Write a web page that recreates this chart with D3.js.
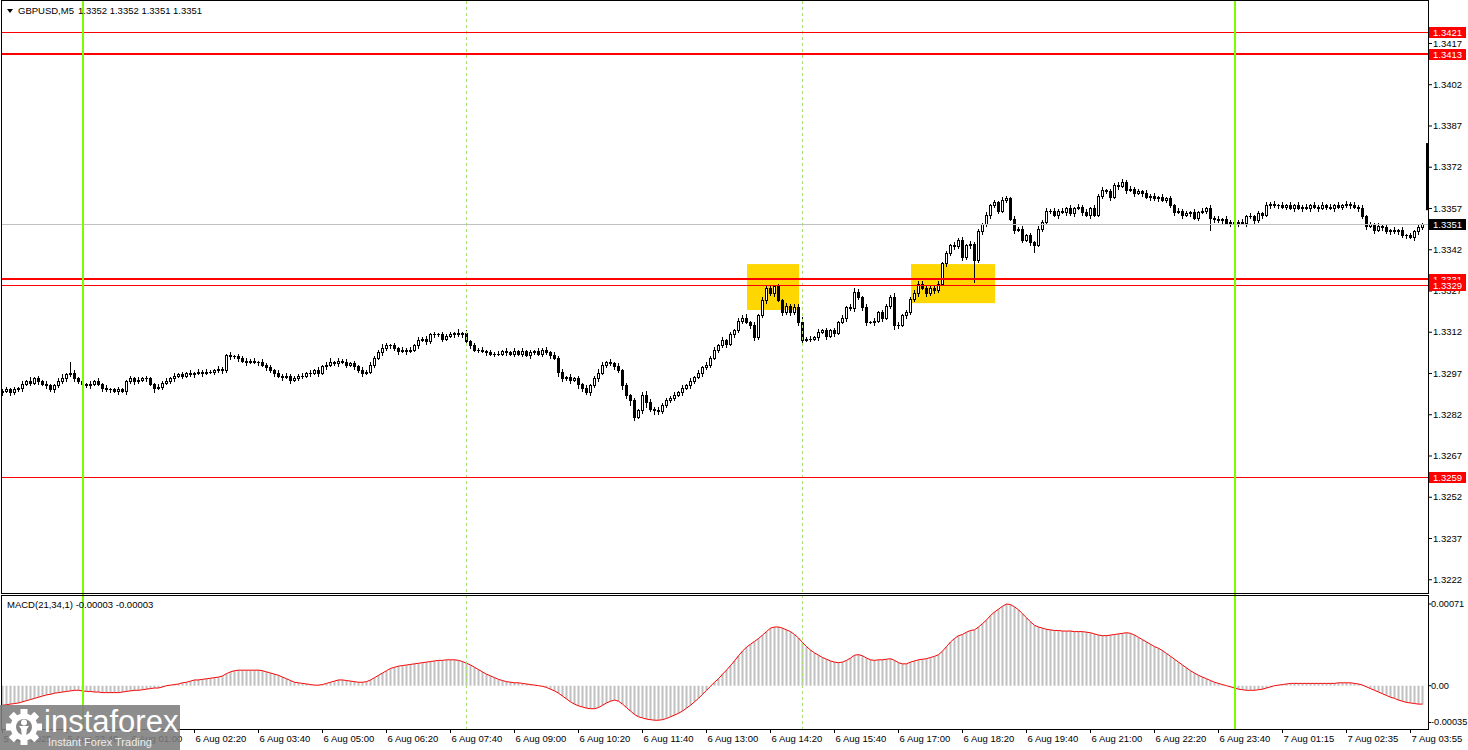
<!DOCTYPE html>
<html><head><meta charset="utf-8">
<script src="https://cdn.jsdelivr.net/npm/d3@7"></script>
<style>
html,body{margin:0;padding:0;background:#fff;overflow:hidden}
svg{display:block}
text{font-family:"Liberation Sans",Arial,sans-serif;}
</style></head><body>
<svg id="c" width="1468" height="750"></svg>
<script>
// ---------------- DATA ----------------
const symbol = "GBPUSD,M5";
const quote = [1.3352, 1.3352, 1.3351, 1.3351];
const macdName = "MACD(21,34,1)";
const macdReadout = [-0.00003, -0.00003];
const firstOpen = 1.3290;
const closes = [
1.32905,1.3291,1.329,1.3291,1.32915,1.3293,1.3294,1.32935,1.3295,1.3294,
1.3293,1.32925,1.3291,1.32925,1.3294,1.3295,1.32965,1.3297,1.3295,1.3294,
1.3293,1.32925,1.3293,1.3294,1.3293,1.32915,1.3291,1.3291,1.32905,1.3291,
1.32905,1.3294,1.3295,1.3294,1.32945,1.3295,1.3295,1.3293,1.32915,1.3292,
1.32935,1.3294,1.3295,1.3296,1.32965,1.3296,1.3297,1.32965,1.3297,1.32975,
1.3297,1.32975,1.32975,1.3298,1.32985,1.3298,1.33035,1.3303,1.3303,1.33025,
1.33015,1.3301,1.33015,1.3301,1.3301,1.33,1.3299,1.3298,1.3297,1.3296,
1.32955,1.3296,1.32945,1.3295,1.3296,1.3296,1.3297,1.3297,1.3298,1.3297,
1.32995,1.33,1.3301,1.33005,1.33015,1.3301,1.33,1.33005,1.32995,1.3298,
1.3297,1.32975,1.33,1.33025,1.33045,1.3306,1.3307,1.3307,1.3306,1.3305,
1.33055,1.3305,1.33055,1.3307,1.3309,1.33095,1.33085,1.3311,1.3311,1.3311,
1.33095,1.33105,1.3311,1.33115,1.3311,1.33115,1.33085,1.3307,1.33055,1.33055,
1.3305,1.33045,1.3304,1.3304,1.3304,1.3305,1.33045,1.3304,1.3305,1.3304,
1.3305,1.33035,1.33045,1.3305,1.3304,1.33055,1.33045,1.33035,1.33025,1.32975,
1.3295,1.32955,1.32945,1.3295,1.3293,1.32915,1.329,1.32925,1.3295,1.3297,
1.33,1.3301,1.33005,1.32995,1.3298,1.32925,1.3289,1.3287,1.3281,1.32835,
1.3289,1.32865,1.3284,1.32835,1.3283,1.32855,1.3287,1.3288,1.3289,1.329,
1.32915,1.32925,1.3294,1.32955,1.3297,1.3299,1.33,1.33025,1.33055,1.3307,
1.3309,1.33075,1.3311,1.33125,1.3316,1.3317,1.33155,1.33145,1.331,1.3318,
1.33235,1.3328,1.3326,1.33285,1.33235,1.3319,1.33215,1.3319,1.3321,1.33155,
1.3309,1.33095,1.33095,1.331,1.3312,1.33125,1.33105,1.33125,1.33115,1.33155,
1.3317,1.3321,1.33205,1.33265,1.33245,1.3321,1.33155,1.33155,1.3316,1.3319,
1.3317,1.33215,1.33245,1.33145,1.33145,1.3318,1.3319,1.3324,1.3326,1.33295,
1.3328,1.3326,1.3328,1.3327,1.33295,1.3337,1.33405,1.33435,1.3343,1.33455,
1.3339,1.33435,1.3344,1.3338,1.33485,1.3351,1.33545,1.3358,1.3359,1.3356,
1.336,1.33605,1.3353,1.3349,1.33495,1.33455,1.3347,1.33445,1.33435,1.33495,
1.3352,1.3356,1.3356,1.33545,1.3356,1.33555,1.3357,1.3355,1.3357,1.33575,
1.33555,1.33545,1.3357,1.33545,1.33615,1.33635,1.3363,1.3361,1.33655,1.3365,
1.33665,1.33635,1.3364,1.33625,1.3363,1.33625,1.3361,1.33615,1.33605,1.3361,
1.336,1.33605,1.3358,1.33555,1.3356,1.33545,1.3355,1.33555,1.33535,1.33555,
1.3356,1.3357,1.33535,1.3353,1.33525,1.3353,1.33515,1.3352,1.33515,1.3352,
1.33515,1.3354,1.3354,1.33525,1.3355,1.33545,1.3358,1.33585,1.3358,1.3358,
1.33575,1.3358,1.3357,1.3358,1.3357,1.33575,1.3357,1.3358,1.33575,1.3357,
1.3358,1.33575,1.3357,1.3358,1.33575,1.3358,1.33585,1.3358,1.33575,1.3357,
1.3354,1.33505,1.3351,1.3349,1.33505,1.335,1.33485,1.3349,1.33485,1.3349,
1.3347,1.3347,1.33465,1.33485,1.335,1.3351
];
// wick lengths above / below the candle body, in pips
const wickUpPips = [
0.5,1,0.5,1,0.5,1,0.5,1.5,0.5,1, 0.5,1,0.5,0.5,1,1.5,0.5,4,1,0.5,
1,0.5,1,0.5,1,0.5,1,0.5,0.5,1, 0.5,0.5,1,0.5,1,0.5,1,0.5,0.5,1,
0.5,1,0.5,1,0.5,1,0.5,1,0.5,1, 0.5,1,0.5,0.5,1,0.5,0.5,1,0.5,1,
0.5,1,0.5,1,0.5,1,0.5,1,0.5,1, 0.5,1,0.5,1,0.5,1,0.5,1,0.5,1,
0.5,1,1.5,0.5,1,0.5,1,0.5,1,0.5, 1,0.5,1,0.5,1,1.5,1,0.5,1,0.5,
1,0.5,1,0.5,1,0.5,1,0.5,1,0.5, 1,0.5,1,0.5,1.5,0.5,1,0.5,1,0.5,
1,0.5,1,0.5,1,0.5,1,0.5,1,0.5, 1,0.5,1,0.5,1,0.5,1,0.5,1,0.5,
1,0.5,1,0.5,1,0.5,1,0.5,1,1.5, 1,0.5,1,0.5,1,0.5,1,0.5,1,0.5,
1,1.5,1,0.5,1,0.5,1,0.5,1,0.5, 1,0.5,1,0.5,1,0.5,1,0.5,1,0.5,
1,0.5,1,0.5,1,1,1.5,0.5,1,0.5, 1,0.5,1,0.5,1,0.5,1,0.5,1,1,
2,0.5,1,0.5,1,0.5,1,0.5,1,0.5, 1,0.5,1,1.5,1,0.5,1,0.5,1,0.5,
1,0.5,1,1.5,1,0.5,1,0.5,1,1, 1,0.5,1,0.5,1,0.5,1,0.5,1,0.5,
1,0.5,1,0.5,1,0.5,1,0.5,1,0.5, 1,1,0.5,1,0.5,1,0.5,1,0.5,1,
0.5,1,0.5,1,0.5,1,0.5,1,0.5,1, 0.5,1,0.5,1,0.5,1,0.5,1,0.5,1,
1,0.5,1,0.5,1,0.5,1,0.5,1,0.5, 1,0.5,1,0.5,1,0.5,1,0.5,1,0.5,
1,0.5,1,0.5,1,0.5,1,0.5,1,0.5, 1,0.5,1,0.5,1,0.5,1,0.5,1,0.5,
1,0.5,1,0.5,1,0.5,1,0.5,1,0.5, 1,0.5,1,0.5,1,0.5,1,0.5,1,0.5,
1,0.5,1,0.5,1,0.5,1,0.5,1,0.5, 1,0.5,1,0.5,1,0.5
];
const wickDownPips = [
1,0.5,1,0.5,0.5,1,0.5,1,0.5,1, 0.5,1,0.5,1,0.5,0.5,1,0.5,1,0.5,
1,0.5,1,0.5,0.5,1,0.5,1,0.5,1, 0.5,1,0.5,1,0.5,0.5,1,0.5,1.5,0.5,
1,0.5,0.5,1,0.5,1,0.5,0.5,1,0.5, 1,0.5,0.5,1,0.5,1,0.5,1,0.5,1,
0.5,1,0.5,0.5,1,0.5,1,0.5,1,0.5, 1,0.5,1,0.5,0.5,1,0.5,1,0.5,1,
0.5,1,0.5,0.5,1,0.5,1,0.5,1,0.5, 1,0.5,0.5,1,0.5,1,0.5,1,0.5,1,
0.5,1,0.5,0.5,1,0.5,1,0.5,1,0.5, 1,0.5,0.5,1,0.5,1,0.5,1,0.5,1,
0.5,1,0.5,1,0.5,0.5,1,0.5,1,0.5, 1,0.5,1,0.5,0.5,1,0.5,1,0.5,1.5,
1,0.5,1,0.5,1.5,1,0.5,1,0.5,1, 0.5,1,0.5,1,0.5,1.5,1,1.5,1,0.5,
1,2,1,1.5,1,0.5,1,0.5,1,0.5, 1,0.5,1,0.5,0.5,1,0.5,1,0.5,1,
0.5,1,0.5,1,0.5,1,0.5,1,1,0.5, 0.5,1,0.5,1,0.5,1,0.5,1,0.5,1,
1,0.5,1,0.5,1,0.5,1,0.5,1,0.5, 0.5,1,0.5,1,0.5,1,1,0.5,1,0.5,
1,0.5,1,1.5,1,0.5,1,0.5,1,1, 0.5,1,0.5,1,0.5,0.5,1,0.5,1,0.5,
1,0.5,1,8,0.5,1,0.5,1,0.5,1, 0.5,1,0.5,1,0.5,1,0.5,1,2.5,0.5,
1,0.5,1,0.5,1,0.5,1,0.5,1,0.5, 1,0.5,1,0.5,0.5,1,0.5,1,0.5,1,
0.5,1,0.5,1,0.5,1,0.5,1,0.5,1, 0.5,1,0.5,1,0.5,1,0.5,1,0.5,1,
0.5,1,4.5,1,0.5,1,0.5,1,0.5,1, 0.5,1,0.5,1,0.5,1,0.5,1,0.5,1,
0.5,1,0.5,1,0.5,1,0.5,1,0.5,1, 0.5,1,0.5,1,0.5,1,0.5,1,0.5,1,
0.5,1,0.5,1,0.5,1,0.5,1,0.5,1, 0.5,1,0.5,1,1,0.5
];
const macdValues = [
-17e-5,-16.5e-5,-16e-5,-15.5e-5,-15e-5,-14e-5,-13e-5,-12e-5,-11e-5,-10e-5,
-9e-5,-8e-5,-7.5e-5,-6.5e-5,-6e-5,-5.5e-5,-5e-5,-4.5e-5,-4e-5,-4e-5,
-4.5e-5,-5e-5,-5e-5,-5.5e-5,-5.5e-5,-6e-5,-6e-5,-6e-5,-6e-5,-6e-5,
-5.5e-5,-5e-5,-4.5e-5,-4e-5,-4e-5,-3.5e-5,-3e-5,-2.5e-5,-2e-5,-2e-5,
-1e-5,0,0.5e-5,1e-5,1.5e-5,2.5e-5,3e-5,4e-5,5e-5,5e-5,
5.5e-5,6e-5,6.5e-5,7e-5,7.5e-5,8.5e-5,10.5e-5,12e-5,13e-5,13.5e-5,
13.5e-5,13.5e-5,13.5e-5,13.5e-5,13.5e-5,13e-5,12e-5,11e-5,10e-5,9e-5,
7.5e-5,6e-5,4.5e-5,3e-5,2.5e-5,2e-5,1.5e-5,1e-5,0.5e-5,0.5e-5,
1e-5,2e-5,3e-5,4e-5,5e-5,5e-5,4.5e-5,4e-5,3.5e-5,3e-5,
3e-5,3.5e-5,5e-5,7e-5,9e-5,11e-5,13e-5,15e-5,16e-5,17e-5,
17.5e-5,18e-5,18.5e-5,19e-5,19.5e-5,20e-5,20.5e-5,21e-5,21.5e-5,22e-5,
22e-5,22.5e-5,22.5e-5,22.5e-5,22e-5,21e-5,19.5e-5,18e-5,16e-5,14e-5,
12e-5,10e-5,8.5e-5,7e-5,5.5e-5,4.5e-5,3.5e-5,3e-5,2.5e-5,2.5e-5,
2e-5,1.5e-5,1e-5,0.5e-5,0,-0.5e-5,-1.5e-5,-3e-5,-4.5e-5,-6.5e-5,
-9e-5,-11.5e-5,-14e-5,-16e-5,-17.5e-5,-18.5e-5,-19.5e-5,-20e-5,-20e-5,-19e-5,
-17e-5,-15e-5,-13.5e-5,-12.5e-5,-13.5e-5,-16e-5,-19e-5,-22e-5,-25e-5,-27e-5,
-28e-5,-29e-5,-29.5e-5,-30e-5,-30e-5,-29.5e-5,-28.5e-5,-27e-5,-25.5e-5,-24e-5,
-22e-5,-19.5e-5,-17e-5,-14e-5,-11e-5,-7.5e-5,-4e-5,-0.5e-5,3e-5,6e-5,
10e-5,13.5e-5,17.5e-5,21.5e-5,26e-5,30e-5,33.5e-5,36e-5,38.5e-5,41e-5,
44e-5,47e-5,50e-5,51e-5,51e-5,50e-5,48.5e-5,47e-5,44.5e-5,41.5e-5,
37.5e-5,34e-5,31e-5,28.5e-5,26.5e-5,24.5e-5,23e-5,21.5e-5,20.5e-5,20e-5,
20.5e-5,22e-5,24e-5,26.5e-5,27e-5,26e-5,24e-5,22.5e-5,22e-5,22.5e-5,
22.5e-5,23e-5,23.5e-5,22e-5,20e-5,19e-5,19e-5,20.5e-5,21.5e-5,22.5e-5,
23e-5,23.5e-5,24.5e-5,25.5e-5,27e-5,30e-5,34e-5,38e-5,41e-5,43.5e-5,
44.5e-5,46.5e-5,48e-5,48.5e-5,51e-5,54e-5,57e-5,61e-5,64e-5,66.5e-5,
69e-5,71e-5,70.5e-5,68.5e-5,66e-5,62.5e-5,59e-5,55.5e-5,52.5e-5,51e-5,
50e-5,49e-5,48.5e-5,48e-5,48e-5,47.5e-5,47.5e-5,47.5e-5,47e-5,47e-5,
47e-5,46.5e-5,46e-5,45e-5,44e-5,43.5e-5,43.5e-5,44e-5,44.5e-5,45e-5,
45.5e-5,46e-5,45.5e-5,44e-5,42e-5,40e-5,38e-5,36e-5,34e-5,32.5e-5,
30.5e-5,28e-5,25.5e-5,23e-5,20.5e-5,18e-5,15.5e-5,13e-5,11e-5,9e-5,
7.5e-5,6e-5,4.5e-5,3e-5,2e-5,1e-5,0,-1e-5,-2e-5,-3e-5,
-3.5e-5,-4e-5,-4e-5,-4e-5,-3.5e-5,-3e-5,-2e-5,-1e-5,0,0.5e-5,
1e-5,1.5e-5,2e-5,2e-5,2e-5,2e-5,2e-5,2e-5,2e-5,2e-5,
2e-5,2e-5,2e-5,2e-5,2.5e-5,2.5e-5,2.5e-5,2.5e-5,2e-5,1.5e-5,
0.5e-5,-1e-5,-2.5e-5,-4e-5,-5.5e-5,-7e-5,-8.5e-5,-10e-5,-11e-5,-12.5e-5,
-13.5e-5,-14.5e-5,-15e-5,-15.5e-5,-16e-5,-16e-5
];
const timeTickBars = [0,16,32,48,64,80,96,112,128,144,160,176,192,208,224,240,256,272,288,304,320,336,352];
const timeTickLabels = ["5 Aug 2025","5 Aug 23:40","6 Aug 01:00","6 Aug 02:20","6 Aug 03:40","6 Aug 05:00","6 Aug 06:20","6 Aug 07:40","6 Aug 09:00","6 Aug 10:20","6 Aug 11:40","6 Aug 13:00","6 Aug 14:20","6 Aug 15:40","6 Aug 17:00","6 Aug 18:20","6 Aug 19:40","6 Aug 21:00","6 Aug 22:20","6 Aug 23:40","7 Aug 01:15","7 Aug 02:35","7 Aug 03:55"];
const priceTicks = [1.3417,1.3402,1.3387,1.3372,1.3357,1.3342,1.3327,1.3312,1.3297,1.3282,1.3267,1.3252,1.3237,1.3222];
const macdTicks = [0.00071, 0, -0.00035];
const levelPrices = [1.3421, 1.3413, 1.3331, 1.3329, 1.3259];
const bidPrice = 1.3351;
const dayBreakBars = [20, 308];
const sessionBars = [116, 200];
const zoneBars = [[186.25, 199.25], [227.25, 248.25]];
const zonePrices = [[1.33366, 1.33199], [1.33366, 1.33224]];
const edgeBar = [1.33806, 1.33562];
const logoName = "instaforex";
const logoTag = "Instant Forex Trading";

// ---------------- CHART ----------------
const PIP = 0.0001;
const N = closes.length;
const svg = d3.select("#c");
const FONT = 9.5;
const FAM = "Liberation Sans, Arial, sans-serif";

const x = d3.scaleLinear().domain([0, N - 1]).range([2, 2 + 4 * (N - 1)]);
const y = d3.scaleLinear().domain([1.3217, 1.34319]).range([593, 2]);
const ym = d3.scaleLinear().domain([-0.0003763, 0.0007795]).range([729, 596]);

const defs = svg.append("defs");
defs.append("clipPath").attr("id", "clipMain").append("rect")
  .attr("x", 2).attr("y", 1).attr("width", 1426).attr("height", 592);
defs.append("clipPath").attr("id", "clipMacd").append("rect")
  .attr("x", 2).attr("y", 596).attr("width", 1426).attr("height", 133);

const gMain = svg.append("g").attr("clip-path", "url(#clipMain)");
const gMacd = svg.append("g").attr("clip-path", "url(#clipMacd)");

// yellow zones
gMain.selectAll("rect.zone").data(zoneBars).join("rect").attr("class", "zone")
  .attr("x", d => x(d[0])).attr("width", d => x(d[1]) - x(d[0]))
  .attr("y", (d, k) => y(zonePrices[k][0]))
  .attr("height", (d, k) => y(zonePrices[k][1]) - y(zonePrices[k][0]))
  .attr("fill", "#ffd700");

// session dashed lines
svg.selectAll("line.sess").data(sessionBars).join("line").attr("class", "sess")
  .attr("x1", d => Math.round(x(d)) + 0.5).attr("x2", d => Math.round(x(d)) + 0.5)
  .attr("y1", 1).attr("y2", 729)
  .attr("stroke", "#a8e07a").attr("stroke-width", 1).attr("stroke-dasharray", "3,3");

// candles
const bars = closes.map((c, i) => {
  const o = i ? closes[i - 1] : firstOpen;
  return { i, o, c, h: Math.max(o, c) + wickUpPips[i] * PIP, l: Math.min(o, c) - wickDownPips[i] * PIP };
});
const gC = gMain.append("g").attr("shape-rendering", "crispEdges");
gC.selectAll("line.wick").data(bars).join("line").attr("class", "wick")
  .attr("x1", d => Math.round(x(d.i)) + 0.5).attr("x2", d => Math.round(x(d.i)) + 0.5)
  .attr("y1", d => Math.round(y(d.h))).attr("y2", d => Math.round(y(d.l)) + 1)
  .attr("stroke", "#000");
gC.selectAll("rect.body").data(bars).join("rect").attr("class", "body")
  .each(function (d) {
    const xi = Math.round(x(d.i));
    const top = Math.round(y(Math.max(d.o, d.c)));
    const bot = Math.round(y(Math.min(d.o, d.c)));
    const s = d3.select(this);
    if (bot - top < 1) {
      s.attr("x", xi - 1).attr("y", top).attr("width", 3).attr("height", 1).attr("fill", "#000");
    } else if (d.c < d.o) {
      s.attr("x", xi - 1).attr("y", top).attr("width", 3).attr("height", bot - top + 1).attr("fill", "#000");
    } else {
      s.attr("x", xi - 0.5).attr("y", top + 0.5).attr("width", 2).attr("height", bot - top)
        .attr("fill", "#fff").attr("stroke", "#000").attr("stroke-width", 1);
    }
  });

// horizontal levels
const levelWidth = [1, 2, 2, 1, 1];
svg.selectAll("line.lvl").data(levelPrices).join("line").attr("class", "lvl")
  .attr("x1", 2).attr("x2", 1428)
  .attr("y1", (d, k) => Math.round(y(d)) + (levelWidth[k] % 2 ? 0.5 : 0))
  .attr("y2", (d, k) => Math.round(y(d)) + (levelWidth[k] % 2 ? 0.5 : 0))
  .attr("stroke", "#ff0000").attr("stroke-width", (d, k) => levelWidth[k]);
svg.append("line").attr("x1", 2).attr("x2", 1428)
  .attr("y1", Math.round(y(bidPrice)) + 0.5).attr("y2", Math.round(y(bidPrice)) + 0.5)
  .attr("stroke", "#c0c0c0");

// day-break lines
svg.selectAll("line.day").data(dayBreakBars).join("line").attr("class", "day")
  .attr("x1", d => Math.round(x(d)) + 1).attr("x2", d => Math.round(x(d)) + 1)
  .attr("y1", 1).attr("y2", 729)
  .attr("stroke", "#7cfc00").attr("stroke-width", 2);

// MACD histogram and line
gMacd.selectAll("rect.h").data(macdValues).join("rect").attr("class", "h")
  .attr("x", (d, i) => Math.round(x(i)) - 0.5).attr("width", 2)
  .attr("y", d => Math.min(ym(d), ym(0))).attr("height", d => Math.abs(ym(d) - ym(0)))
  .attr("fill", "#c0c0c0");
gMacd.append("path").datum(macdValues)
  .attr("d", d3.line().x((d, i) => x(i) + 0.5).y(d => ym(d)))
  .attr("fill", "none").attr("stroke", "#ff0000").attr("stroke-width", 1);

// edge marker at the right of the price panel
svg.append("rect").attr("x", 1426).attr("width", 3)
  .attr("y", y(edgeBar[0])).attr("height", y(edgeBar[1]) - y(edgeBar[0])).attr("fill", "#000");

// frames
svg.append("rect").attr("x", 1.5).attr("y", 0.5).attr("width", 1427).attr("height", 593)
  .attr("fill", "none").attr("stroke", "#000");
svg.append("rect").attr("x", 1.5).attr("y", 595.5).attr("width", 1427).attr("height", 134)
  .attr("fill", "none").attr("stroke", "#000");

// right price axis
const axR = d3.axisRight(y).tickValues(priceTicks).tickFormat(d3.format(".4f")).tickSize(4).tickPadding(1);
svg.append("g").attr("transform", "translate(1428,0)").call(axR)
  .call(g => g.select(".domain").remove())
  .call(g => g.selectAll("text").attr("font-size", FONT).attr("font-family", FAM).attr("fill", "#000"))
  .call(g => g.selectAll("line").attr("stroke", "#000"));

// MACD axis
const axM = d3.axisRight(ym).tickValues(macdTicks).tickFormat(v => v === 0 ? "0.00" : v.toFixed(5)).tickSize(3).tickPadding(0);
svg.append("g").attr("transform", "translate(1428,0)").call(axM)
  .call(g => g.select(".domain").remove())
  .call(g => g.selectAll(".tick").attr("transform", d => `translate(0,${Math.min(ym(d), 722.5)})`))
  .call(g => g.selectAll("text").attr("font-size", 9.2).attr("font-family", FAM).attr("fill", "#000"))
  .call(g => g.selectAll("line").attr("stroke", "#000"));

// highlighted price labels
const tagData = levelPrices.map(p => ({ p, bg: "#ff0000" })).concat([{ p: bidPrice, bg: "#000" }]);
const tags = svg.append("g");
tagData.forEach(t => {
  const yy = Math.round(y(t.p));
  tags.append("rect").attr("x", 1429).attr("y", yy - 5).attr("width", 37).attr("height", 11).attr("fill", t.bg);
  tags.append("text").attr("x", 1433).attr("y", yy + 4).attr("font-size", FONT).attr("fill", "#fff").text(t.p.toFixed(4));
});

// bottom time axis
const axB = d3.axisBottom(x).tickValues(timeTickBars).tickFormat((d, k) => timeTickLabels[k]).tickSize(4).tickPadding(2);
svg.append("g").attr("transform", "translate(0,729)").call(axB)
  .call(g => g.select(".domain").remove())
  .call(g => g.selectAll("text").attr("text-anchor", "start").attr("x", 1).attr("font-size", FONT)
    .attr("font-family", FAM).attr("fill", "#000"))
  .call(g => g.selectAll("line").attr("stroke", "#000"));

// titles
svg.append("path").attr("d", "M7,9 L13,9 L10,13 Z").attr("fill", "#000");
svg.append("text").attr("x", 18).attr("y", 14).attr("font-size", FONT).text(symbol);
svg.append("text").attr("x", 78).attr("y", 14).attr("font-size", FONT).text(quote.map(v => v.toFixed(4)).join(" "));
svg.append("text").attr("x", 7).attr("y", 608).attr("font-size", FONT)
  .text(macdName + " " + macdReadout.map(v => v.toFixed(5)).join(" "));

// logo
const logo = svg.append("g");
logo.append("rect").attr("x", 0).attr("y", 705).attr("width", 180).attr("height", 45)
  .attr("fill", "#7d7d7d").attr("opacity", 0.88);
const gear = logo.append("g").attr("transform", "translate(24,727)");
d3.range(8).forEach(k => gear.append("rect").attr("x", -3.5).attr("y", -18).attr("width", 7).attr("height", 8)
  .attr("fill", "#fff").attr("transform", `rotate(${k * 45})`));
gear.append("circle").attr("r", 13.5).attr("fill", "#fff");
gear.append("circle").attr("r", 8).attr("fill", "#858585");
gear.append("circle").attr("cy", -4.5).attr("r", 3).attr("fill", "#fff");
gear.append("path").attr("d", "M-5,-1 L5,-1 L3,2 L2,9 L-2,9 L-3,2 Z").attr("fill", "#fff");
logo.append("text").attr("x", 44).attr("y", 732).attr("font-size", 31).attr("fill", "#fff").text(logoName);
logo.append("text").attr("x", 48).attr("y", 746).attr("font-size", 11).attr("fill", "#eeeeee").text(logoTag);
</script>
</body></html>
